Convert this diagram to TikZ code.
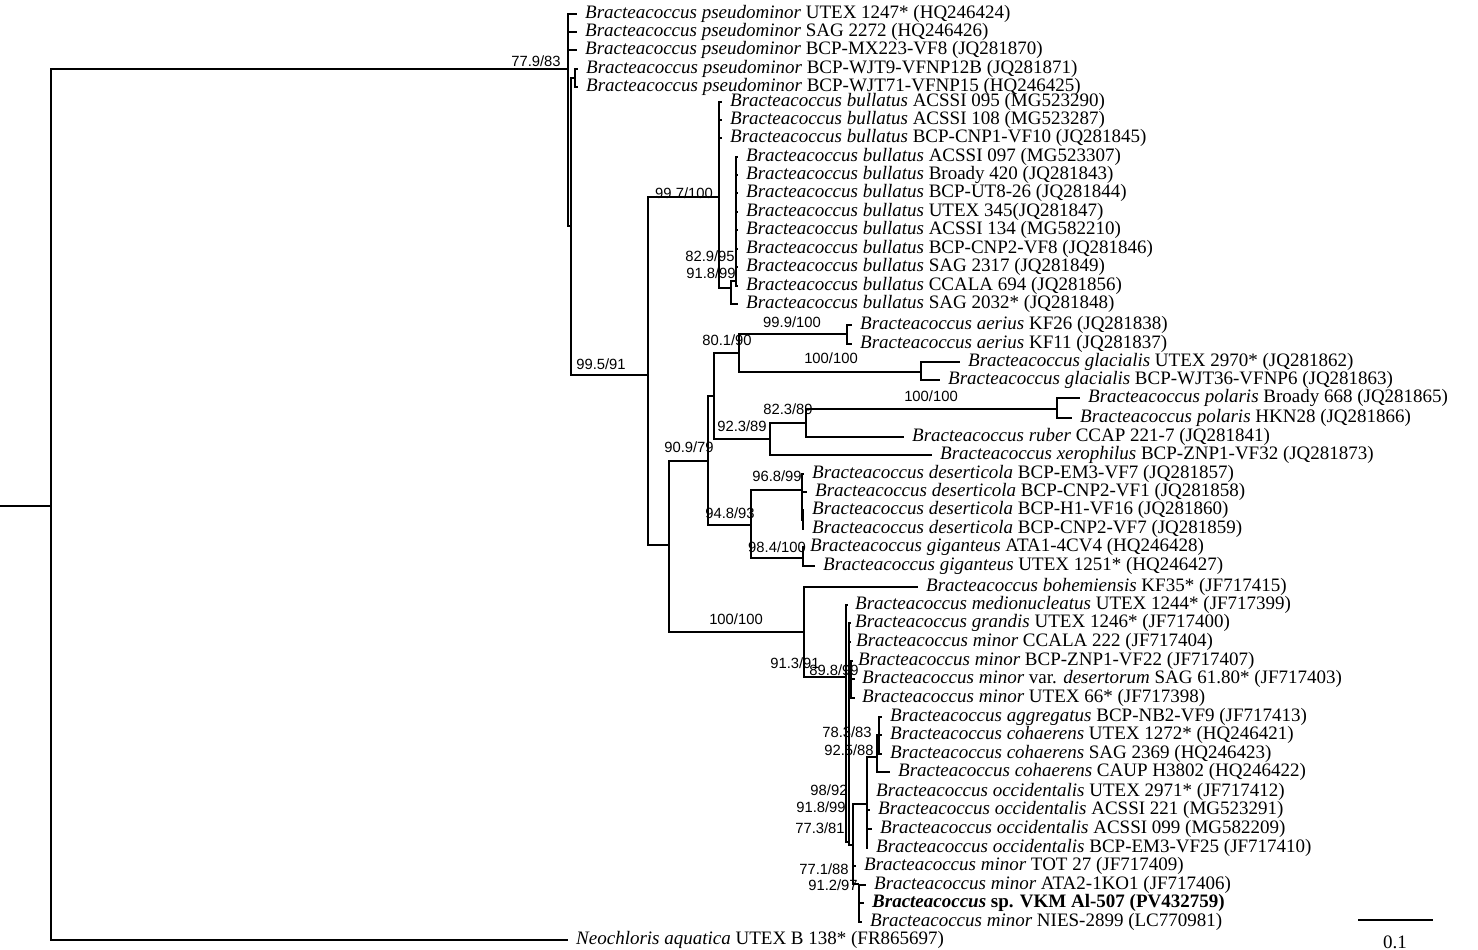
\documentclass[tikz,border=0pt]{standalone}
\usepackage{fontspec}
\setmainfont{Liberation Serif}
\newfontfamily\lblfamily{Liberation Sans}
\newcommand\leaffont{\fontsize{19}{20}\selectfont}
\newcommand\lblfont{\lblfamily\fontsize{14.8}{15}\selectfont}
\begin{document}
\begin{tikzpicture}[x=1pt,y=-1pt,
  br/.style={line width=1.4pt},
  leaf/.style={anchor=west, inner xsep=8pt, inner ysep=0pt, font=\leaffont},
  lbl/.style={inner sep=0pt, font=\lblfont}]
\useasboundingbox (0,0) rectangle (1478,950);
% internal nodes
\coordinate (Rs) at (0,506);
\coordinate (R0) at (51,506);
\coordinate (A) at (568,69);
\coordinate (B) at (571,226);
\coordinate (C) at (575,78);
\coordinate (D) at (648,375);
\coordinate (E) at (719,197);
\coordinate (F) at (731,288);
\coordinate (G) at (736,281);
\coordinate (H) at (669,545);
\coordinate (I) at (708,461);
\coordinate (J) at (714,396);
\coordinate (K) at (739,353);
\coordinate (L) at (847,334);
\coordinate (M) at (921,372);
\coordinate (N) at (770,439);
\coordinate (O) at (806,423);
\coordinate (P) at (1057,409);
\coordinate (Q) at (751,525);
\coordinate (R) at (802,490);
\coordinate (S) at (803,520);
\coordinate (T) at (803,558);
\coordinate (U) at (804,632);
\coordinate (V) at (846,677);
\coordinate (V2) at (849,842);
\coordinate (X) at (851,679);
\coordinate (Y) at (853,845);
\coordinate (W) at (867,804);
\coordinate (CO) at (877,757);
\coordinate (CO2) at (879,735);
\coordinate (Z) at (859,884);
% leaves
\node[leaf] (l1) at (577,14) {\textit{Bracteacoccus pseudominor} UTEX 1247* (HQ246424)};
\node[leaf] (l2) at (577,32) {\textit{Bracteacoccus pseudominor} SAG 2272 (HQ246426)};
\node[leaf] (l3) at (577,50) {\textit{Bracteacoccus pseudominor} BCP-MX223-VF8 (JQ281870)};
\node[leaf] (l4) at (578,69) {\textit{Bracteacoccus pseudominor} BCP-WJT9-VFNP12B (JQ281871)};
\node[leaf] (l5) at (578,87) {\textit{Bracteacoccus pseudominor} BCP-WJT71-VFNP15 (HQ246425)};
\node[leaf] (l6) at (722,102) {\textit{Bracteacoccus bullatus} ACSSI 095 (MG523290)};
\node[leaf] (l7) at (722,120) {\textit{Bracteacoccus bullatus} ACSSI 108 (MG523287)};
\node[leaf] (l8) at (722,138) {\textit{Bracteacoccus bullatus} BCP-CNP1-VF10 (JQ281845)};
\node[leaf] (l9) at (738,157) {\textit{Bracteacoccus bullatus} ACSSI 097 (MG523307)};
\node[leaf] (l10) at (738,175) {\textit{Bracteacoccus bullatus} Broady 420 (JQ281843)};
\node[leaf] (l11) at (738,193) {\textit{Bracteacoccus bullatus} BCP-UT8-26 (JQ281844)};
\node[leaf] (l12) at (738,212) {\textit{Bracteacoccus bullatus} UTEX 345(JQ281847)};
\node[leaf] (l13) at (738,230) {\textit{Bracteacoccus bullatus} ACSSI 134 (MG582210)};
\node[leaf] (l14) at (738,249) {\textit{Bracteacoccus bullatus} BCP-CNP2-VF8 (JQ281846)};
\node[leaf] (l15) at (738,267) {\textit{Bracteacoccus bullatus} SAG 2317 (JQ281849)};
\node[leaf] (l16) at (738,286) {\textit{Bracteacoccus bullatus} CCALA 694 (JQ281856)};
\node[leaf] (l17) at (738,304) {\textit{Bracteacoccus bullatus} SAG 2032* (JQ281848)};
\node[leaf] (l18) at (852,325) {\textit{Bracteacoccus aerius} KF26 (JQ281838)};
\node[leaf] (l19) at (852,344) {\textit{Bracteacoccus aerius} KF11 (JQ281837)};
\node[leaf] (l20) at (960,362) {\textit{Bracteacoccus glacialis} UTEX 2970* (JQ281862)};
\node[leaf] (l21) at (940,380) {\textit{Bracteacoccus glacialis} BCP-WJT36-VFNP6 (JQ281863)};
\node[leaf] (l22) at (1080,398) {\textit{Bracteacoccus polaris} Broady 668 (JQ281865)};
\node[leaf] (l23) at (1072,418) {\textit{Bracteacoccus polaris} HKN28 (JQ281866)};
\node[leaf] (l24) at (904,437) {\textit{Bracteacoccus ruber} CCAP 221-7 (JQ281841)};
\node[leaf] (l25) at (932,455) {\textit{Bracteacoccus xerophilus} BCP-ZNP1-VF32 (JQ281873)};
\node[leaf] (l26) at (804,474) {\textit{Bracteacoccus deserticola} BCP-EM3-VF7 (JQ281857)};
\node[leaf] (l27) at (807,492) {\textit{Bracteacoccus deserticola} BCP-CNP2-VF1 (JQ281858)};
\node[leaf] (l28) at (804,510) {\textit{Bracteacoccus deserticola} BCP-H1-VF16 (JQ281860)};
\node[leaf] (l29) at (804,529) {\textit{Bracteacoccus deserticola} BCP-CNP2-VF7 (JQ281859)};
\node[leaf,inner xsep=6pt] (l30) at (804,547) {\textit{Bracteacoccus giganteus} ATA1-4CV4 (HQ246428)};
\node[leaf] (l31) at (815,566) {\textit{Bracteacoccus giganteus} UTEX 1251* (HQ246427)};
\node[leaf] (l32) at (918,587) {\textit{Bracteacoccus bohemiensis} KF35* (JF717415)};
\node[leaf,inner xsep=7pt] (l33) at (848,605) {\textit{Bracteacoccus medionucleatus} UTEX 1244* (JF717399)};
\node[leaf,inner xsep=4pt] (l34) at (851,623) {\textit{Bracteacoccus grandis} UTEX 1246* (JF717400)};
\node[leaf,inner xsep=5pt] (l35) at (851,642) {\textit{Bracteacoccus minor} CCALA 222 (JF717404)};
\node[leaf,inner xsep=5pt] (l36) at (853,661) {\textit{Bracteacoccus minor} BCP-ZNP1-VF22 (JF717407)};
\node[leaf,inner xsep=7pt] (l37) at (855,679) {\textit{Bracteacoccus minor} var. \textit{desertorum} SAG 61.80* (JF717403)};
\node[leaf,inner xsep=7pt] (l38) at (855,698) {\textit{Bracteacoccus minor} UTEX 66* (JF717398)};
\node[leaf] (l39) at (882,717) {\textit{Bracteacoccus aggregatus} BCP-NB2-VF9 (JF717413)};
\node[leaf] (l40) at (882,735) {\textit{Bracteacoccus cohaerens} UTEX 1272* (HQ246421)};
\node[leaf] (l41) at (882,754) {\textit{Bracteacoccus cohaerens} SAG 2369 (HQ246423)};
\node[leaf] (l42) at (890,772) {\textit{Bracteacoccus cohaerens} CAUP H3802 (HQ246422)};
\node[leaf] (l43) at (868,792) {\textit{Bracteacoccus occidentalis} UTEX 2971* (JF717412)};
\node[leaf] (l44) at (870,810) {\textit{Bracteacoccus occidentalis} ACSSI 221 (MG523291)};
\node[leaf] (l45) at (872,829) {\textit{Bracteacoccus occidentalis} ACSSI 099 (MG582209)};
\node[leaf] (l46) at (868,848) {\textit{Bracteacoccus occidentalis} BCP-EM3-VF25 (JF717410)};
\node[leaf] (l47) at (856,866) {\textit{Bracteacoccus minor} TOT 27 (JF717409)};
\node[leaf] (l48) at (866,885) {\textit{Bracteacoccus minor} ATA2-1KO1 (JF717406)};
\node[leaf] (l49) at (864,903) {\textbf{\textit{Bracteacoccus} sp. VKM Al-507 (PV432759)}};
\node[leaf] (l50) at (862,922) {\textit{Bracteacoccus minor} NIES-2899 (LC770981)};
\node[leaf] (neo) at (568,940) {\textit{Neochloris aquatica} UTEX B 138* (FR865697)};
% branches
\draw[br] (Rs) -- (R0);
\draw[br] (R0) |- (A);
\draw[br] (R0) |- (neo.west);
\foreach \c in {l1,l2,l3} \draw[br] (A) |- (\c.west);
\draw[br] (A) |- (B);
\draw[br] (B) |- (C);
\draw[br] (B) |- (D);
\foreach \c in {l4,l5} \draw[br] (C) |- (\c.west);
\draw[br] (D) |- (E);
\draw[br] (D) |- (H);
\foreach \c in {l6,l7,l8} \draw[br] (E) |- (\c.west);
\draw[br] (E) |- (F);
\draw[br] (F) |- (G);
\draw[br] (F) |- (l17.west);
\foreach \c in {l9,l10,l11,l12,l13,l14,l15,l16} \draw[br] (G) |- (\c.west);
\draw[br] (H) |- (I);
\draw[br] (H) |- (U);
\draw[br] (I) |- (J);
\draw[br] (I) |- (Q);
\draw[br] (J) |- (K);
\draw[br] (J) |- (N);
\draw[br] (K) |- (L);
\draw[br] (K) |- (M);
\foreach \c in {l18,l19} \draw[br] (L) |- (\c.west);
\foreach \c in {l20,l21} \draw[br] (M) |- (\c.west);
\draw[br] (N) |- (O);
\draw[br] (N) |- (l25.west);
\draw[br] (O) |- (P);
\draw[br] (O) |- (l24.west);
\foreach \c in {l22,l23} \draw[br] (P) |- (\c.west);
\draw[br] (Q) |- (R);
\draw[br] (Q) |- (T);
\foreach \c in {l26,l27} \draw[br] (R) |- (\c.west);
\draw[br] (R) |- (S);
\foreach \c in {l28,l29} \draw[br] (S) |- (\c.west);
\foreach \c in {l30,l31} \draw[br] (T) |- (\c.west);
\draw[br] (U) |- (l32.west);
\draw[br] (U) |- (V);
\draw[br] (V) |- (l33.west);
\draw[br] (V) |- (V2);
\foreach \c in {l34,l35} \draw[br] (V2) |- (\c.west);
\draw[br] (V2) |- (X);
\draw[br] (V2) |- (Y);
\foreach \c in {l36,l37,l38} \draw[br] (X) |- (\c.west);
\draw[br] (Y) |- (W);
\draw[br] (Y) |- (l47.west);
\draw[br] (Y) |- (Z);
\draw[br] (W) |- (CO);
\foreach \c in {l43,l44,l45,l46} \draw[br] (W) |- (\c.west);
\draw[br] (CO) |- (CO2);
\draw[br] (CO) |- (l42.west);
\foreach \c in {l39,l40,l41} \draw[br] (CO2) |- (\c.west);
\foreach \c in {l48,l49,l50} \draw[br] (Z) |- (\c.west);
% support labels
\node[lbl] (sA) at (536,61) {77.9/83};
\node[lbl] (sD) at (601,364) {99.5/91};
\node[lbl] (sE) at (684,193) {99.7/100};
\node[lbl] (sG) at (710,256) {82.9/95};
\node[lbl] (sF) at (711,273) {91.8/99};
\node[lbl] (sL) at (792,322) {99.9/100};
\node[lbl] (sK) at (727,340) {80.1/90};
\node[lbl] (sM) at (831,358) {100/100};
\node[lbl] (sP) at (931,396) {100/100};
\node[lbl] (sO) at (788,409) {82.3/89};
\node[lbl] (sN) at (742,426) {92.3/89};
\node[lbl] (sI) at (689,447) {90.9/79};
\node[lbl] (sQ) at (730,513) {94.8/93};
\node[lbl] (sR) at (777,476) {96.8/99};
\node[lbl] (sT) at (777,547) {98.4/100};
\node[lbl] (sU) at (736,619) {100/100};
\node[lbl] (sV) at (795,663) {91.3/91};
\node[lbl] (sV2) at (834,670) {89.8/99};
\node[lbl] (sCO2) at (847,732) {78.3/83};
\node[lbl] (sCO) at (849,750) {92.5/88};
\node[lbl] (sW) at (829,790) {98/92};
\node[lbl] (sY) at (821,807) {91.8/99};
\node[lbl] (sY2) at (820,828) {77.3/81};
\node[lbl] (sZ0) at (824,869) {77.1/88};
\node[lbl] (sZ) at (833,885) {91.2/97};
% scale bar
\coordinate (s1) at (1358,920);
\coordinate (s2) at (1433,920);
\draw[br] (s1) -- (s2);
\node[font=\leaffont, inner sep=0pt] (sl) at (1395,942) {0.1};
\end{tikzpicture}
\end{document}
